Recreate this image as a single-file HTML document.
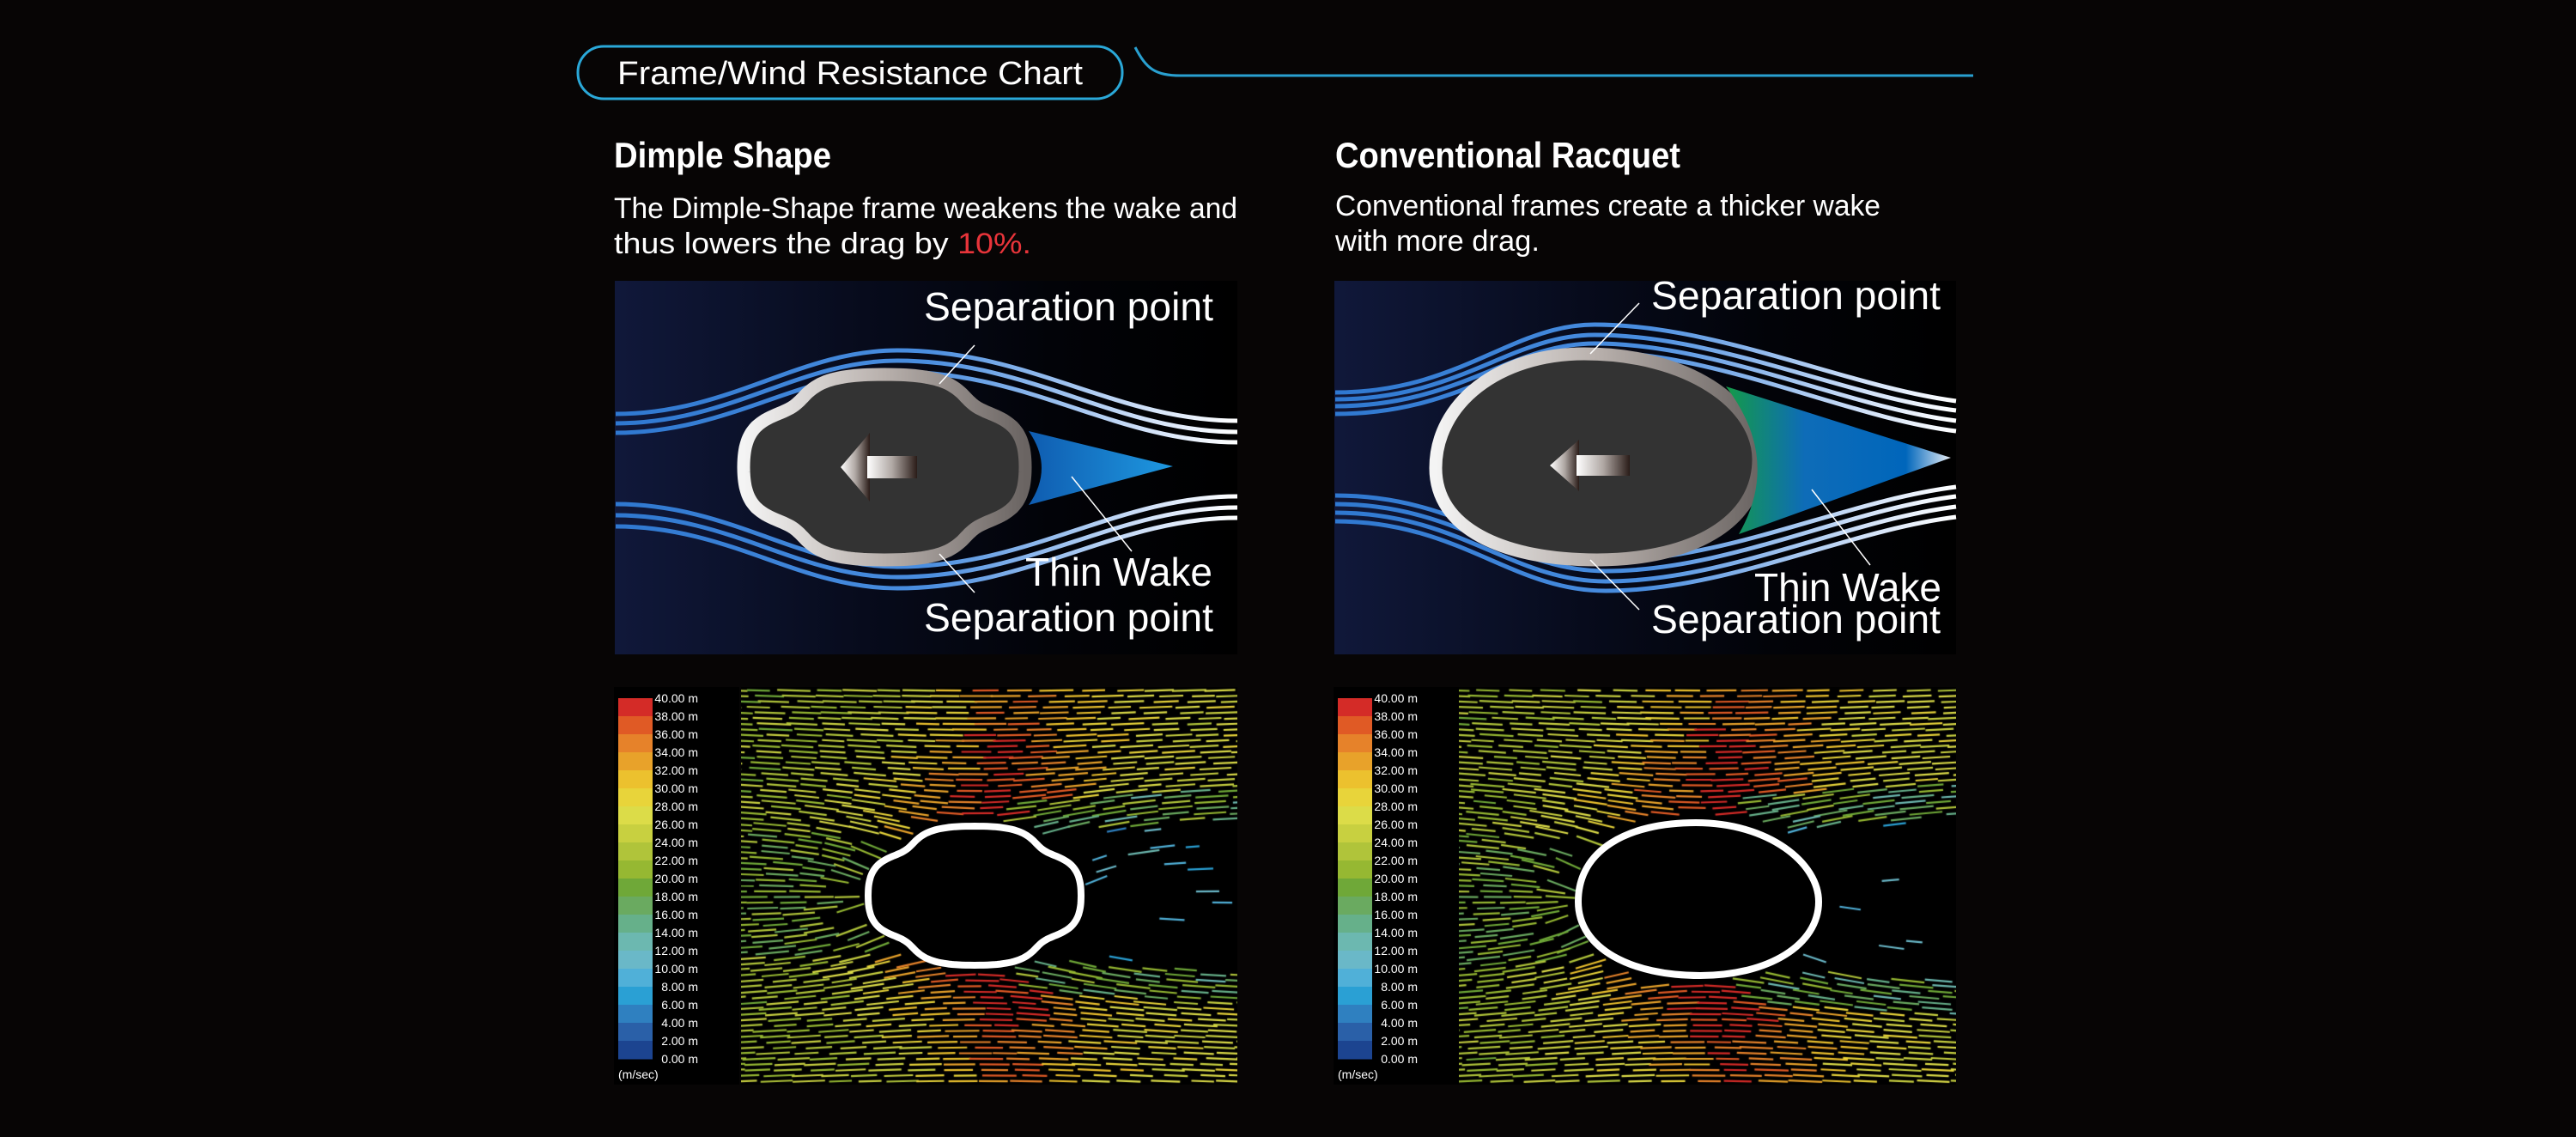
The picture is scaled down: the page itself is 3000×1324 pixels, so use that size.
<!DOCTYPE html>
<html><head><meta charset="utf-8">
<style>
html,body{margin:0;padding:0;background:#070505;}
#wrap{position:relative;width:3000px;height:1324px;overflow:hidden;background:#070505;}
svg,canvas{position:absolute;left:0;top:0;}
text{font-family:"Liberation Sans",sans-serif;}
</style></head><body><div id="wrap">
<canvas id="c1" width="578" height="463" style="left:863px;top:800px"></canvas>
<canvas id="c2" width="579" height="463" style="left:1699px;top:800px"></canvas>
<svg width="3000" height="1324" viewBox="0 0 3000 1324" style="pointer-events:none">
<defs>
<linearGradient id="pbg" x1="0" y1="0" x2="1" y2="0">
<stop offset="0" stop-color="#10183a"/><stop offset="0.4" stop-color="#070b1c"/><stop offset="0.7" stop-color="#020308"/><stop offset="1" stop-color="#000"/></linearGradient>
<linearGradient id="sL" gradientUnits="userSpaceOnUse" x1="717" y1="0" x2="1441" y2="0">
<stop offset="0" stop-color="#2f78d0"/><stop offset="0.5" stop-color="#4a8ee0"/><stop offset="0.85" stop-color="#cfe0f8"/><stop offset="1" stop-color="#ffffff"/></linearGradient>
<linearGradient id="sR" gradientUnits="userSpaceOnUse" x1="1555" y1="0" x2="2278" y2="0">
<stop offset="0" stop-color="#2f78d0"/><stop offset="0.5" stop-color="#4a8ee0"/><stop offset="0.85" stop-color="#cfe0f8"/><stop offset="1" stop-color="#ffffff"/></linearGradient>
<linearGradient id="rim" x1="0" y1="0" x2="1" y2="0">
<stop offset="0" stop-color="#f4f4f4"/><stop offset="0.5" stop-color="#b8b0ac"/><stop offset="1" stop-color="#6a6462"/></linearGradient>
<linearGradient id="arr" x1="0" y1="0" x2="1" y2="0">
<stop offset="0" stop-color="#ffffff"/><stop offset="0.5" stop-color="#b0a8a4"/><stop offset="1" stop-color="#2a1c18"/></linearGradient>
<linearGradient id="wL" x1="0" y1="0" x2="1" y2="0">
<stop offset="0" stop-color="#0f5cb0"/><stop offset="1" stop-color="#1e98e0"/></linearGradient>
<linearGradient id="wR" x1="0" y1="0" x2="1" y2="0">
<stop offset="0" stop-color="#149a48"/><stop offset="0.35" stop-color="#0e6cb8"/><stop offset="0.8" stop-color="#0066bb"/><stop offset="1" stop-color="#e8eef6"/></linearGradient>
</defs>

<rect x="673" y="54" width="634" height="61" rx="30" fill="none" stroke="#2aa8d8" stroke-width="3"/>
<text x="719" y="98" font-size="38" fill="#fff" textLength="542" lengthAdjust="spacingAndGlyphs">Frame/Wind Resistance Chart</text>
<path d="M1322 55 C1335 80 1345 88 1375 88 L2298 88" fill="none" stroke="#29a0d0" stroke-width="3"/>

<text x="715" y="195" font-size="42" font-weight="bold" fill="#fff" textLength="253" lengthAdjust="spacingAndGlyphs">Dimple Shape</text>
<text x="1555" y="195" font-size="42" font-weight="bold" fill="#fff" textLength="402" lengthAdjust="spacingAndGlyphs">Conventional Racquet</text>
<text x="715" y="254" font-size="34" fill="#fff" textLength="726" lengthAdjust="spacingAndGlyphs">The Dimple-Shape frame weakens the wake and</text>
<text x="715" y="295" font-size="34" fill="#fff" textLength="486" lengthAdjust="spacingAndGlyphs">thus lowers the drag by <tspan fill="#e8343a">10%.</tspan></text>
<text x="1555" y="251" font-size="34" fill="#fff" textLength="635" lengthAdjust="spacingAndGlyphs">Conventional frames create a thicker wake</text>
<text x="1555" y="292" font-size="34" fill="#fff" textLength="238" lengthAdjust="spacingAndGlyphs">with more drag.</text>

<rect x="716" y="327" width="725" height="435" fill="url(#pbg)"/>
<g fill="none" stroke="url(#sL)" stroke-width="5">
<path d="M717 482 C850 482 930 408 1045 408 C1200 408 1300 490 1441 490"/>
<path d="M717 493 C850 493 930 420 1045 420 C1200 420 1300 503 1441 503"/>
<path d="M717 504 C850 504 930 433 1045 433 C1200 433 1300 515 1441 515"/>
<path d="M717 587 C850 587 930 660 1045 660 C1200 660 1300 578 1441 578"/>
<path d="M717 600 C850 600 930 672 1045 672 C1200 672 1300 591 1441 591"/>
<path d="M717 613 C850 613 930 685 1045 685 C1200 685 1300 603 1441 603"/>
</g>
<path id="dimTop" d="" fill="#333333" stroke="url(#rim)" stroke-width="15"/>
<polygon points="979,544 1013,504 1013,584" fill="url(#arr)"/>
<rect x="1010" y="531" width="58" height="26" fill="url(#arr)"/>
<path d="M1198 502 Q1228 545 1198 588 L1366 543 Z" fill="url(#wL)"/>
<g stroke="#fff" stroke-width="1.5">
<line x1="1135" y1="402" x2="1094" y2="447"/>
<line x1="1094" y1="645" x2="1135" y2="690"/>
<line x1="1248" y1="555" x2="1318" y2="642"/>
</g>
<text x="1076" y="373" font-size="46" fill="#fff" textLength="337" lengthAdjust="spacingAndGlyphs">Separation point</text>
<text x="1194" y="682" font-size="46" fill="#fff" textLength="218" lengthAdjust="spacingAndGlyphs">Thin Wake</text>
<text x="1076" y="735" font-size="46" fill="#fff" textLength="337" lengthAdjust="spacingAndGlyphs">Separation point</text>

<rect x="1554" y="327" width="724" height="435" fill="url(#pbg)"/>
<g fill="none" stroke="url(#sR)" stroke-width="5">
<path d="M1555 457 C1700 457 1760 378 1857 378 C2000 378 2150 450 2278 467"/>
<path d="M1555 465 C1700 465 1760 390 1857 390 C2000 390 2150 462 2278 478"/>
<path d="M1555 473 C1700 473 1760 400 1857 400 C2000 400 2150 474 2278 490"/>
<path d="M1555 482 C1700 482 1760 410 1857 410 C2000 410 2150 486 2278 502"/>
<path d="M1555 577 C1700 577 1760 653 1870 653 C2010 653 2150 583 2278 567"/>
<path d="M1555 587 C1700 587 1760 665 1870 665 C2010 665 2150 594 2278 578"/>
<path d="M1555 597 C1700 597 1760 677 1870 677 C2010 677 2150 606 2278 590"/>
<path d="M1555 607 C1700 607 1760 688 1870 688 C2010 688 2150 618 2278 602"/>
</g>
<path d="M1672 545 C1672 470 1745 412 1845 412 C1965 412 2048 470 2048 535 C2048 608 1970 652 1860 652 C1750 652 1672 615 1672 545 Z" fill="#333333" stroke="url(#rim)" stroke-width="15"/>
<polygon points="1805,542 1839,512 1839,572" fill="url(#arr)"/>
<rect x="1836" y="530" width="62" height="24" fill="url(#arr)"/>
<path d="M2010 450 Q2075 535 2025 622 L2272 533 Z" fill="url(#wR)"/>
<g stroke="#fff" stroke-width="1.5">
<line x1="1909" y1="353" x2="1852" y2="412"/>
<line x1="1852" y1="652" x2="1909" y2="710"/>
<line x1="2110" y1="570" x2="2178" y2="658"/>
</g>
<text x="1923" y="360" font-size="46" fill="#fff" textLength="337" lengthAdjust="spacingAndGlyphs">Separation point</text>
<text x="2043" y="700" font-size="46" fill="#fff" textLength="218" lengthAdjust="spacingAndGlyphs">Thin Wake</text>
<text x="1923" y="737" font-size="46" fill="#fff" textLength="337" lengthAdjust="spacingAndGlyphs">Separation point</text>

<g id="legends"></g>
<path id="dimBot" d="" fill="#000" stroke="#fff" stroke-width="8"/>
<path d="M1838 1050 C1838 990 1895 958 1975 958 C2060 958 2118 1005 2118 1050 C2118 1100 2060 1136 1980 1136 C1900 1136 1838 1105 1838 1050 Z" fill="#000" stroke="#fff" stroke-width="8"/>
</svg>
</div>
<script>
var cols=["#d42b27","#e05a25","#e6822a","#e8a22a","#ecc12e","#e8d43a","#dcdc48","#c8d040","#b0c43a","#96b832","#6fa838","#6aaa60","#66b08a","#6cb8b0","#6ab8c8","#50b0d8","#2aa0d4","#2f80c0","#2a60a8","#1c4490"];
var NS="http://www.w3.org/2000/svg";
function dimple(cx,cy,a,b){
  var d="";for(var i=0;i<=240;i++){var t=i/240*2*Math.PI,c=Math.cos(t),s=Math.sin(t);
    var n=2.4,x=Math.sign(c)*Math.pow(Math.abs(c),2/n),y=Math.sign(s)*Math.pow(Math.abs(s),2/n);
    var m=(t%(Math.PI/2))-Math.PI/4,k=1-0.13*Math.exp(-m*m/0.1);
    d+=(i?"L":"M")+(cx+a*x*k).toFixed(1)+" "+(cy+b*y*k).toFixed(1);}
  return d+"Z";}
document.getElementById("dimTop").setAttribute("d",dimple(1030,544,164,108));
document.getElementById("dimBot").setAttribute("d",dimple(1135,1043,124,81));
var lg=document.getElementById("legends");
function el(n,a,t){var e=document.createElementNS(NS,n);for(var k in a)e.setAttribute(k,a[k]);if(t)e.textContent=t;lg.appendChild(e);return e;}
[[715,720,813],[1553,1558,1651]].forEach(function(p){
  el("rect",{x:p[0],y:800,width:146,height:463,fill:"#000"});
  for(var i=0;i<20;i++)el("rect",{x:p[1],y:813+i*21,width:40,height:21.5,fill:cols[i]});
  for(var i=0;i<=20;i++)el("text",{x:p[2],y:818+i*21,"font-size":14,fill:"#fff","text-anchor":"end"},(40-2*i).toFixed(2)+" m");
  el("text",{x:p[1],y:1256,"font-size":14,fill:"#fff"},"(m/sec)");
});
function rnd(s){return function(){s=(s*16807)%2147483647;return s/2147483647;}}
function field(id,cx,cy,a,b,seed){
  var c=document.getElementById(id),ctx=c.getContext("2d"),W=c.width,H=c.height,r=rnd(seed);
  ctx.fillStyle="#000";ctx.fillRect(0,0,W,H);ctx.lineWidth=2.2;
  for(var y=4;y<H;y+=6.5){
    for(var x=-15+r()*30;x<W+20;x+=32+r()*12){
      var u=(x-cx)/a,v=(y-cy)/b,r2=u*u+v*v;
      if(r2<1.3)continue;
      var r4=r2*r2,wx=1-(u*u-v*v)/r4,wy=-2*u*v/r4;
      var av=Math.abs(v);
      var val=25+(u<0?-3:1)+(r()-0.5)*5;
      var hx=Math.exp(-Math.pow((x-cx)/(a*0.95)-(av-1)*0.15,2));
      if(av>0.8) val+=17*hx*Math.exp(-Math.max(0,av-1.1)/2.5);
      if(u>0.4){var half=0.9+(u-0.4)*0.1;
        if(av<half){ if(r()<0.93)continue; val=4+r()*10; }
        else if(av<half+0.45){ val=13+r()*10; }
      }
      if(u<-0.9&&av<0.9){val=16+r()*8; if(u>-1.4&&r()<0.4)continue;}
      var idx=Math.max(0,Math.min(19,Math.floor((40-val)/2)));
      var dx=wx*a, dy=wy*b*0.7, L=Math.sqrt(dx*dx+dy*dy)||1, len=(val<12?16:26)+r()*14;
      dx=dx/L*len/2;dy=dy/L*len/2;
      ctx.strokeStyle=cols[idx];ctx.beginPath();ctx.moveTo(x-dx,y+dy);ctx.lineTo(x+dx,y-dy);ctx.stroke();
    }
  }
}
field("c1",272,243,124,81,12345);
field("c2",280,247,141,89,54321);
</script>
</body></html>
